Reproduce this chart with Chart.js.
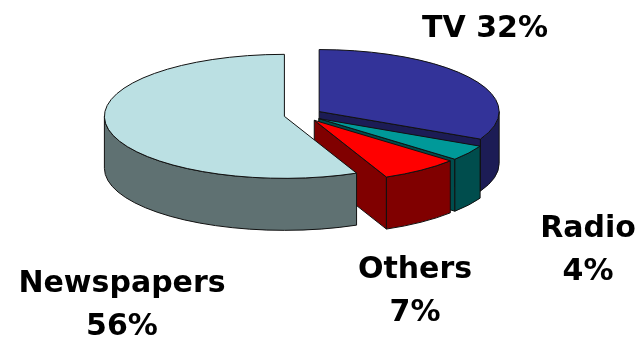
<!DOCTYPE html>
<html>
<head>
<meta charset="utf-8">
<script src="https://cdn.jsdelivr.net/npm/chart.js@4.4.1/dist/chart.umd.min.js"></script>
<style>
  html, body { margin: 0; padding: 0; background: #fff; }
  #wrap { width: 643px; height: 346px; }
</style>
</head>
<body>
<div id="wrap"><canvas id="mediaChart" width="643" height="346"></canvas></div>
<script>
const categories = ["TV", "Radio", "Others", "Newspapers"];
const shares = [32, 4, 7, 56];

const topColors = ["#333399", "#009999", "#ff0000", "#bbe0e3"];
const sideColors = ["#1c1c55", "#004d4d", "#800000", "#5f7172"];

// tilted pie: screen centre, ellipse radii, wall height, explode distance
const PIE = { cx: 303, cy: 115, rx: 180, ry: 62, depth: 52, explode: 19 };

// label anchors (first baseline), inline = "name value%" on one line
const labelSpots = [
  { x: 485, y: 37, inline: true },
  { x: 588, y: 237 },
  { x: 415, y: 278 },
  { x: 122, y: 292 }
];

const pie3d = {
  id: "pie3d",
  beforeDatasetsDraw(chart) {
    const ctx = chart.ctx;
    const k = PIE.ry / PIE.rx;
    const slices = chart.getDatasetMeta(0).data.map(function (el, i) {
      const p = el.getProps(["x", "y", "startAngle", "endAngle", "outerRadius"], true);
      const mid = (p.startAngle + p.endAngle) / 2;
      return {
        el: el, i: i, a0: p.startAngle, a1: p.endAngle,
        ox: p.x, oy: p.y, r: p.outerRadius,
        cx: PIE.cx + PIE.explode * Math.cos(mid),
        cy: PIE.cy + PIE.explode * k * Math.sin(mid)
      };
    });

    function pt(s, a) {
      return [s.cx + PIE.rx * Math.cos(a), s.cy + PIE.ry * Math.sin(a)];
    }
    function paint(fill) {
      ctx.fillStyle = fill;
      ctx.fill();
      ctx.lineWidth = 1;
      ctx.strokeStyle = "#111";
      ctx.stroke();
    }

    ctx.save();
    ctx.lineJoin = "round";

    // cut faces of the slices, back ones first
    const faces = [];
    slices.forEach(function (s) {
      if (Math.cos(s.a0) < -1e-9) faces.push({ s: s, a: s.a0 });
      if (Math.cos(s.a1) > 1e-9) faces.push({ s: s, a: s.a1 });
    });
    faces.sort(function (f, g) { return Math.sin(f.a) - Math.sin(g.a); });
    faces.forEach(function (f) {
      const s = f.s, e = pt(s, f.a);
      ctx.beginPath();
      ctx.moveTo(s.cx, s.cy);
      ctx.lineTo(e[0], e[1]);
      ctx.lineTo(e[0], e[1] + PIE.depth);
      ctx.lineTo(s.cx, s.cy + PIE.depth);
      ctx.closePath();
      paint(sideColors[s.i]);
    });

    // outer rim, only the half facing the viewer
    slices.forEach(function (s) {
      const lo = Math.max(s.a0, 0), hi = Math.min(s.a1, Math.PI);
      if (hi <= lo) return;
      ctx.beginPath();
      ctx.ellipse(s.cx, s.cy, PIE.rx, PIE.ry, 0, lo, hi);
      ctx.ellipse(s.cx, s.cy + PIE.depth, PIE.rx, PIE.ry, 0, hi, lo, true);
      ctx.closePath();
      paint(sideColors[s.i]);
    });

    // top faces: the arc elements themselves, squashed into the ellipse
    slices.forEach(function (s) {
      ctx.save();
      ctx.translate(s.cx, s.cy);
      ctx.scale(PIE.rx / s.r, PIE.ry / s.r);
      ctx.translate(-s.ox, -s.oy);
      s.el.draw(ctx);
      ctx.restore();

      ctx.beginPath();
      ctx.moveTo(s.cx, s.cy);
      ctx.ellipse(s.cx, s.cy, PIE.rx, PIE.ry, 0, s.a0, s.a1);
      ctx.closePath();
      ctx.lineWidth = 1;
      ctx.strokeStyle = "#111";
      ctx.stroke();
    });

    ctx.restore();
    return false;
  }
};

const sliceLabels = {
  id: "sliceLabels",
  afterDraw(chart) {
    const ctx = chart.ctx;
    ctx.save();
    ctx.font = "bold 30px 'DejaVu Sans'";
    ctx.fillStyle = "#000";
    ctx.textAlign = "center";
    ctx.textBaseline = "alphabetic";
    categories.forEach(function (name, i) {
      const spot = labelSpots[i];
      const pct = shares[i] + "%";
      if (spot.inline) {
        ctx.fillText(name + " " + pct, spot.x, spot.y);
      } else {
        ctx.fillText(name, spot.x, spot.y);
        ctx.fillText(pct, spot.x, spot.y + 43);
      }
    });
    ctx.restore();
  }
};

new Chart(document.getElementById("mediaChart"), {
  type: "pie",
  data: {
    labels: categories,
    datasets: [{ data: shares, backgroundColor: topColors, borderWidth: 0 }]
  },
  options: {
    responsive: false,
    animation: false,
    events: [],
    plugins: {
      legend: { display: false },
      tooltip: { enabled: false }
    }
  },
  plugins: [pie3d, sliceLabels]
});
</script>
</body>
</html>
